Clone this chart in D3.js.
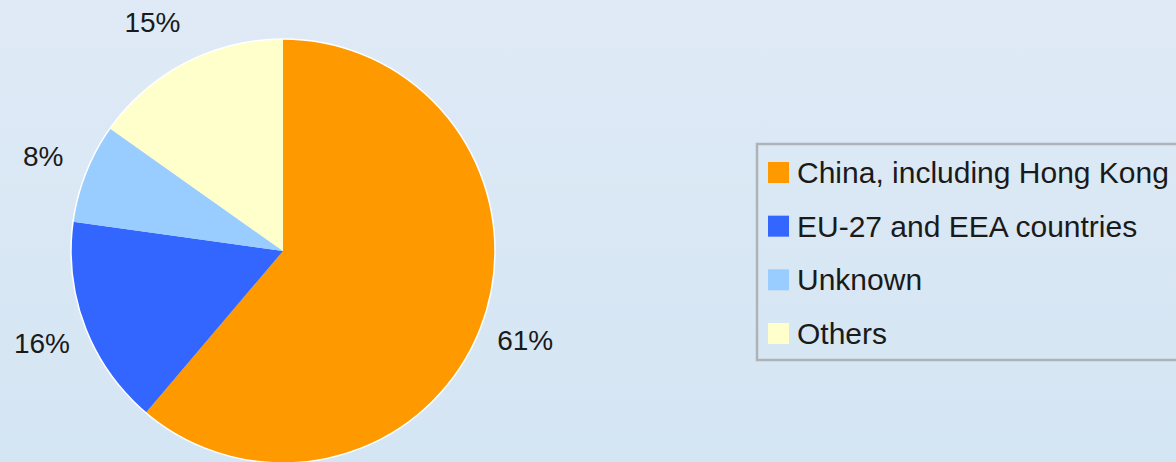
<!DOCTYPE html>
<html>
<head>
<meta charset="utf-8">
<script src="https://cdn.jsdelivr.net/npm/d3@7"></script>
<style>
  html, body { margin: 0; padding: 0; }
  svg { display: block; }
  text { font-family: "Liberation Sans", Arial, sans-serif; fill: #1a1a1a; }
</style>
</head>
<body>
<svg width="1176" height="462"></svg>
<script>
// slices, clockwise from 12 o'clock
const categories = ["China, including Hong Kong", "EU-27 and EEA countries", "Unknown", "Others"];
const shares = [61.2, 16.0, 7.6, 15.2];
const colors = ["#ff9900", "#3366ff", "#99ccff", "#ffffcc"];

const svg = d3.select('svg');
const W = 1176, H = 462;

// soft blue background gradient
const defs = svg.append('defs');
const grad = defs.append('linearGradient')
    .attr('id', 'bg').attr('x1', 0).attr('y1', 0).attr('x2', 0).attr('y2', 1);
grad.append('stop').attr('offset', '0%').attr('stop-color', '#dfeaf6');
grad.append('stop').attr('offset', '100%').attr('stop-color', '#d4e5f3');
svg.append('rect').attr('width', W).attr('height', H).attr('fill', 'url(#bg)');

const cx = 283, cy = 251, r = 212;

const pie = d3.pie().sort(null).value(function(d){ return d; });
const arcs = pie(shares);
const arc = d3.arc().innerRadius(0).outerRadius(r);
const labelArc = d3.arc().innerRadius(258).outerRadius(258);

const g = svg.append('g').attr('transform', 'translate(' + cx + ',' + cy + ')');

g.selectAll('path.slice')
  .data(arcs)
  .enter().append('path')
  .classed('slice', true)
  .attr('d', arc)
  .attr('fill', function(d, i){ return colors[i]; });

// thin white rim round the pie
g.append('circle')
  .attr('r', r)
  .attr('fill', 'none')
  .attr('stroke', '#ffffff')
  .attr('stroke-width', 1.5);

g.selectAll('text.pct')
  .data(arcs)
  .enter().append('text')
  .classed('pct', true)
  .attr('transform', function(d){
      const c = labelArc.centroid(d);
      // labels near the top sit a little further left, as in the original
      if (c[1] < -180) c[0] -= 12;
      return 'translate(' + c + ')';
  })
  .attr('text-anchor', 'middle')
  .attr('dy', '0.36em')
  .style('font-size', '28px')
  .text(function(d){ return Math.round(d.data) + '%'; });

// legend
const legend = svg.append('g').attr('transform', 'translate(757,144)');
legend.append('rect')
  .attr('x', 0).attr('y', 0)
  .attr('width', 440).attr('height', 216)
  .attr('fill', 'none')
  .attr('stroke', '#aeb3b8')
  .attr('stroke-width', 2.5);

const rowY = d3.scalePoint().domain(categories).range([29, 190]);

const items = legend.selectAll('g.item')
  .data(categories)
  .enter().append('g')
  .classed('item', true)
  .attr('transform', function(d){ return 'translate(0,' + rowY(d) + ')'; });

items.append('rect')
  .attr('x', 11).attr('y', -11)
  .attr('width', 21).attr('height', 21)
  .attr('fill', function(d, i){ return colors[i]; });

items.append('text')
  .attr('x', 40)
  .attr('y', 10)
  .style('font-size', '30px')
  .text(function(d){ return d; });
</script>
</body>
</html>
